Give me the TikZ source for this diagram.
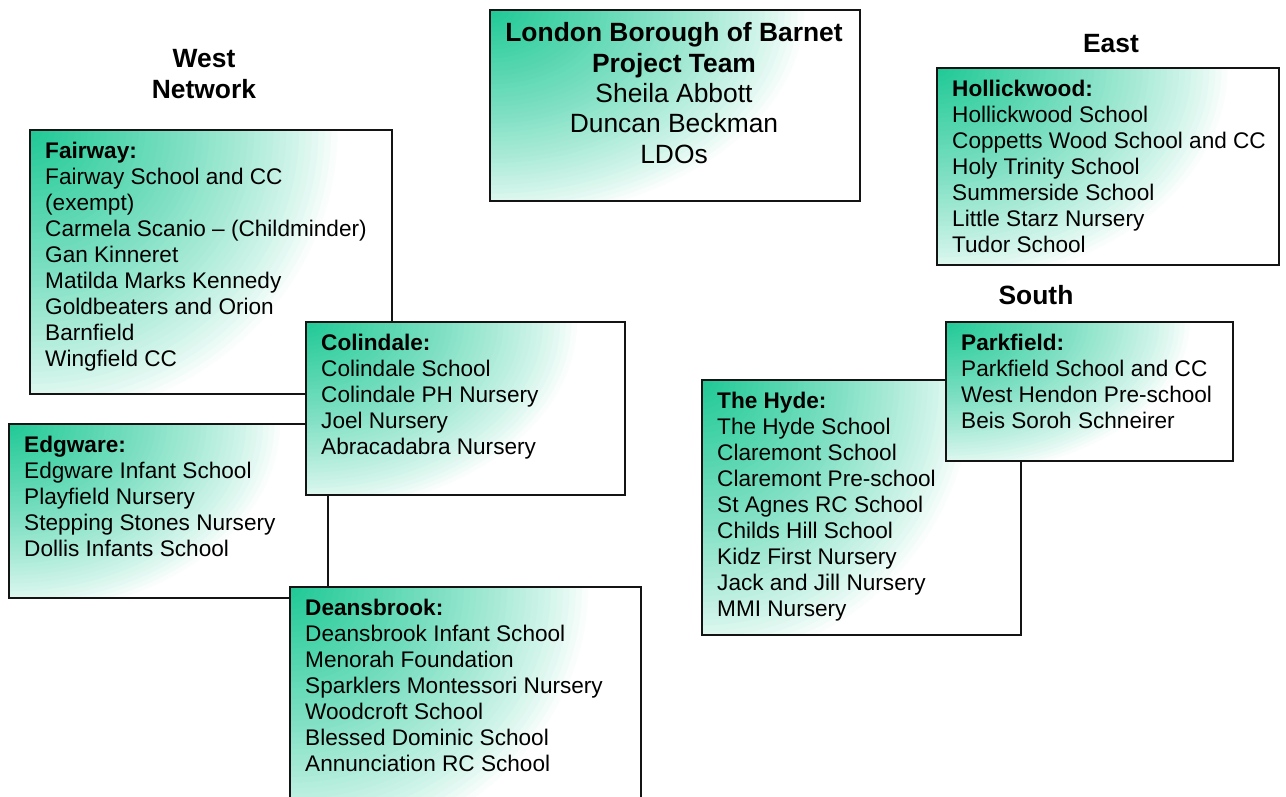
\documentclass[tikz,border=0pt]{standalone}
\usepackage{fontspec}
\setmainfont{Liberation Sans}
\usetikzlibrary{calc}

\definecolor{leaf}{RGB}{32,201,150}
\definecolor{edge}{RGB}{20,20,20}

% corner glow: stacked ellipses from the top-left corner, green fading to white
\newcommand\cornerglow{%
  \path let \p1=($(path picture bounding box.north east)-(path picture bounding box.south west)$) in
    \pgfextra{\pgfmathsetmacro\glowtmp{abs(\x1)}\global\let\glowrx\glowtmp
              \pgfmathsetmacro\glowtmp{abs(\y1)}\global\let\glowry\glowtmp};
  \foreach \k in {48,47,...,1}{
    \pgfmathsetmacro\glowpct{100*(1-(\k-0.5)/48)^0.8}
    \pgfmathsetlengthmacro\glowa{0.85*\glowrx*\k/48}
    \pgfmathsetlengthmacro\glowb{1.1*\glowry*\k/48}
    \fill[leaf!\glowpct!white] (path picture bounding box.north west)
      ellipse[x radius=\glowa, y radius=\glowb];
  }%
}

\tikzset{
  panel/.style={draw=edge, line width=1.6pt, fill=white, anchor=north west,
    inner sep=0pt, path picture={\cornerglow}},
  listtext/.style={anchor=north west, inner sep=0pt, align=left,
    font=\fontsize{22.6}{26}\selectfont},
  bigtext/.style={anchor=north, inner sep=0pt, align=center,
    font=\fontsize{26.4}{30.4}\selectfont},
  heading/.style={bigtext, font=\fontsize{26.4}{30.4}\selectfont\bfseries}
}

\begin{document}
\begin{tikzpicture}[x=1pt, y=-1pt]
\useasboundingbox (0,0) rectangle (1286,796);
\clip (0,0) rectangle (1286,796);

% project team
\node[panel, minimum width=370pt, minimum height=191pt] (team) at (489,9) {};
\node[bigtext] (teamtext) at (674,20.2)
  {\strut\textbf{London Borough of Barnet}\\\textbf{Project Team}\\Sheila Abbott\\Duncan Beckman\\LDOs};

% network headings
\node[heading] (west) at (204,46.2) {\strut West\\Network};
\node[heading] (east) at (1111,31.2) {\strut East};
\node[heading] (south) at (1036,283.2) {\strut South};

% west network
\node[panel, minimum width=362pt, minimum height=264pt] (fairway) at (29,129) {};
\node[listtext] (fairwaytext) at (45,139.8)
  {\strut\textbf{Fairway:}\\Fairway School and CC\\(exempt)\\Carmela Scanio -- (Childminder)\\Gan Kinneret\\Matilda Marks Kennedy\\Goldbeaters and Orion\\Barnfield\\Wingfield CC};

\node[panel, minimum width=319pt, minimum height=174pt] (edgware) at (8,423) {};
\node[listtext] (edgwaretext) at (24,433.8)
  {\strut\textbf{Edgware:}\\Edgware Infant School\\Playfield Nursery\\Stepping Stones Nursery\\Dollis Infants School};

\node[panel, minimum width=319pt, minimum height=173pt] (colindale) at (305,321) {};
\node[listtext] (colindaletext) at (321,331.8)
  {\strut\textbf{Colindale:}\\Colindale School\\Colindale PH Nursery\\Joel Nursery\\Abracadabra Nursery};

\node[panel, minimum width=351pt, minimum height=244pt] (deansbrook) at (289,586) {};
\node[listtext] (deansbrooktext) at (305,596.8)
  {\strut\textbf{Deansbrook:}\\Deansbrook Infant School\\Menorah Foundation\\Sparklers Montessori Nursery\\Woodcroft School\\Blessed Dominic School\\Annunciation RC School};

% east network
\node[panel, minimum width=342pt, minimum height=197pt] (hollickwood) at (936,67) {};
\node[listtext] (hollickwoodtext) at (952,77.8)
  {\strut\textbf{Hollickwood:}\\Hollickwood School\\Coppetts Wood School and CC\\Holy Trinity School\\Summerside School\\Little Starz Nursery\\Tudor School};

% south network
\node[panel, minimum width=319pt, minimum height=255pt] (hyde) at (701,379) {};
\node[listtext] (hydetext) at (717,389.8)
  {\strut\textbf{The Hyde:}\\The Hyde School\\Claremont School\\Claremont Pre-school\\St Agnes RC School\\Childs Hill School\\Kidz First Nursery\\Jack and Jill Nursery\\MMI Nursery};

\node[panel, minimum width=287pt, minimum height=139pt] (parkfield) at (945,321) {};
\node[listtext] (parkfieldtext) at (961,331.8)
  {\strut\textbf{Parkfield:}\\Parkfield School and CC\\West Hendon Pre-school\\Beis Soroh Schneirer};
\end{tikzpicture}
\end{document}
